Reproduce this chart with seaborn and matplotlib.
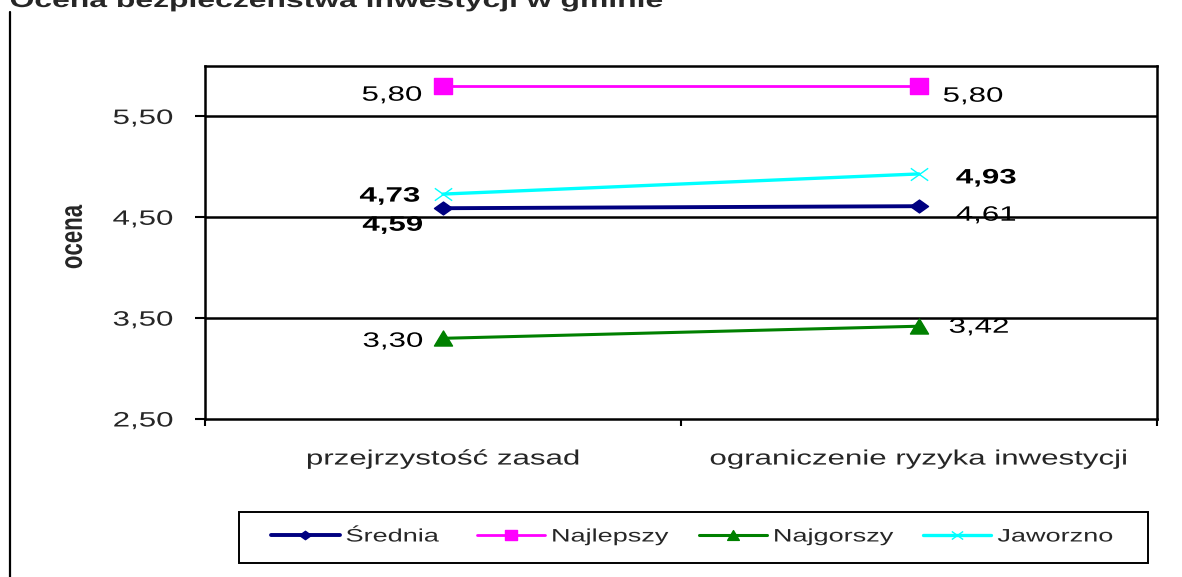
import matplotlib
matplotlib.use("Agg")
import matplotlib.pyplot as plt
import seaborn as sns
import pandas as pd
from matplotlib.lines import Line2D
from matplotlib.patches import Rectangle
from matplotlib.path import Path
from matplotlib.patheffects import AbstractPathEffect
from matplotlib.transforms import Affine2D

categories = ["przejrzystość zasad", "ograniczenie ryzyka inwestycji"]
series_names = ["Średnia", "Najlepszy", "Najgorszy", "Jaworzno"]
srednia = [4.59, 4.61]
najlepszy = [5.80, 5.80]
najgorszy = [3.30, 3.42]
jaworzno = [4.73, 4.93]
y_ticks = [2.5, 3.5, 4.5, 5.5]
title = "Ocena bezpieczeństwa inwestycji w gminie"
y_label = "ocena"

colors = ["#000080", "#FF00FF", "#008000", "#00FFFF"]

# slightly wide marker shapes (the reference is horizontally stretched)
m_diamond = Path([(-1.4, 0), (0, 1), (1.4, 0), (0, -1), (-1.4, 0)],
                 [1, 2, 2, 2, 79])
m_square = Path([(-1.2, -1), (1.2, -1), (1.2, 1), (-1.2, 1), (-1.2, -1)],
                [1, 2, 2, 2, 79])
m_tri = Path([(-1.2, -1), (1.2, -1), (0, 1), (-1.2, -1)], [1, 2, 2, 79])
m_x = Path([(-1.4, -1), (1.4, 1), (-1.4, 1), (1.4, -1)], [1, 2, 1, 2])
markers = [m_diamond, m_square, m_tri, m_x]
msizes = [13, 13, 13, 12.5]
lws = [2.8, 2.0, 2.2, 2.4]


class HStretch(AbstractPathEffect):
    """Draw text stretched horizontally, as in the reference image."""

    def __init__(self, sx=1.5, anchor="left"):
        super().__init__()
        self.sx = sx
        self.anchor = anchor

    def draw_path(self, renderer, gc, tpath, affine, rgbFace=None):
        ext = tpath.get_extents(affine)
        if self.anchor == "left":
            x0 = ext.x0
        elif self.anchor == "right":
            x0 = ext.x1
        else:
            x0 = 0.5 * (ext.x0 + ext.x1)
        aff = affine + Affine2D().translate(-x0, 0).scale(self.sx, 1).translate(x0, 0)
        renderer.draw_path(gc, tpath, aff, rgbFace)


sns.set_theme(style="white")
plt.rcParams["font.family"] = ["Liberation Sans", "DejaVu Sans"]

rows = []
for name, vals in zip(series_names, [srednia, najlepszy, najgorszy, jaworzno]):
    for i, c in enumerate(categories):
        rows.append({"pos": i, "cat": c, "val": vals[i], "series": name})
df = pd.DataFrame(rows)

fig = plt.figure(figsize=(11.82, 5.77), dpi=100)
ax = fig.add_axes([205/1182, 1 - 419/577, (1157-205)/1182, (419-66)/577])

for name, col, mk, ms, lw in zip(series_names, colors, markers, msizes, lws):
    sub = df[df["series"] == name]
    face = "none" if name == "Jaworzno" else col
    sns.lineplot(data=sub, x="pos", y="val", ax=ax, color=col, marker=mk,
                 markersize=ms, markeredgecolor=col, markerfacecolor=face,
                 markeredgewidth=1.0, linewidth=lw, label=name, legend=False,
                 zorder=3)

ax.set_xlim(-0.5, 1.5)
ax.set_ylim(2.5, 6.0)
ax.set_yticks(y_ticks)
ax.set_yticklabels([f"{v:.2f}".replace(".", ",") for v in y_ticks], fontsize=15)
ax.set_xticks(range(len(categories)))
ax.set_xticklabels(categories, fontsize=15)
ax.set_xticks([-0.5, 0.5, 1.5], minor=True)
ax.tick_params(axis="x", which="major", length=0, pad=22)
ax.tick_params(axis="x", which="minor", length=5, width=1.5, color="black",
               direction="out", bottom=True)
ax.tick_params(axis="y", which="major", length=7, width=1.5, color="black",
               direction="out", left=True, pad=16)
for lab in ax.get_yticklabels():
    lab.set_path_effects([HStretch(1.5, "right")])
for lab in ax.get_xticklabels():
    lab.set_path_effects([HStretch(1.5, "center")])

for y in [3.5, 4.5, 5.5]:
    ax.axhline(y, color="black", linewidth=1.8, zorder=1)
for s in ax.spines.values():
    s.set_color("black")
    s.set_linewidth(1.8)
ax.set_xlabel("")
ax.set_ylabel(y_label, fontsize=16, fontweight="bold")
ax.yaxis.set_label_coords((74 - 205) / 952, (419 - 237) / 353)
ax.yaxis.label.set_va("center")
ax.yaxis.label.set_path_effects([HStretch(1.4, "center")])


def fmt(v):
    return f"{v:.2f}".replace(".", ",")


left_specs = [(najlepszy[0], -21, -9, "normal"), (jaworzno[0], -23, -2, "bold"),
              (srednia[0], -20, -17, "bold"), (najgorszy[0], -20, -3, "normal")]
for v, dx, dy, w in left_specs:
    t = ax.annotate(fmt(v), (0, v), xytext=(dx, dy), textcoords="offset pixels",
                    ha="right", va="center", fontsize=15, fontweight=w, color="black")
    t.set_path_effects([HStretch(1.5, "right")])
right_specs = [(najlepszy[1], 24, -10, "normal"), (jaworzno[1], 37, -4, "bold"),
               (srednia[1], 37, -9, "normal"), (najgorszy[1], 30, -1, "normal")]
for v, dx, dy, w in right_specs:
    t = ax.annotate(fmt(v), (1, v), xytext=(dx, dy), textcoords="offset pixels",
                    ha="left", va="center", fontsize=15, fontweight=w, color="black")
    t.set_path_effects([HStretch(1.5, "left")])

# legend
handles = [Line2D([0], [0], color=c, marker=m, markersize=ms * 0.65, linewidth=lw,
                  markeredgecolor=c, markerfacecolor=("none" if i == 3 else c))
           for i, (c, m, ms, lw) in enumerate(zip(colors, markers, msizes, lws))]
leg = fig.legend(handles, series_names, loc="center left", ncol=4,
                 bbox_to_anchor=(271/1182, 1 - 537/577), fontsize=13,
                 frameon=False, handlelength=3.8, columnspacing=3.8,
                 handletextpad=0.35, borderpad=0.0, borderaxespad=0.0)
for t in leg.get_texts():
    t.set_path_effects([HStretch(1.5, "left")])
fig.add_artist(Rectangle((239/1182, 1 - 563/577), (1148-239)/1182, 51/577,
                         transform=fig.transFigure, fill=False,
                         edgecolor="black", linewidth=1.4))

t = fig.text(10/1182, 1 - 7/577, title, ha="left", va="baseline",
             fontsize=15.3, fontweight="bold")
t.set_path_effects([HStretch(1.5, "left")])
fig.add_artist(Line2D([10/1182, 10/1182], [0, 1 - 12/577], color="black",
                      linewidth=1.6, transform=fig.transFigure))

fig.savefig("out.png", dpi=100, facecolor="white")
